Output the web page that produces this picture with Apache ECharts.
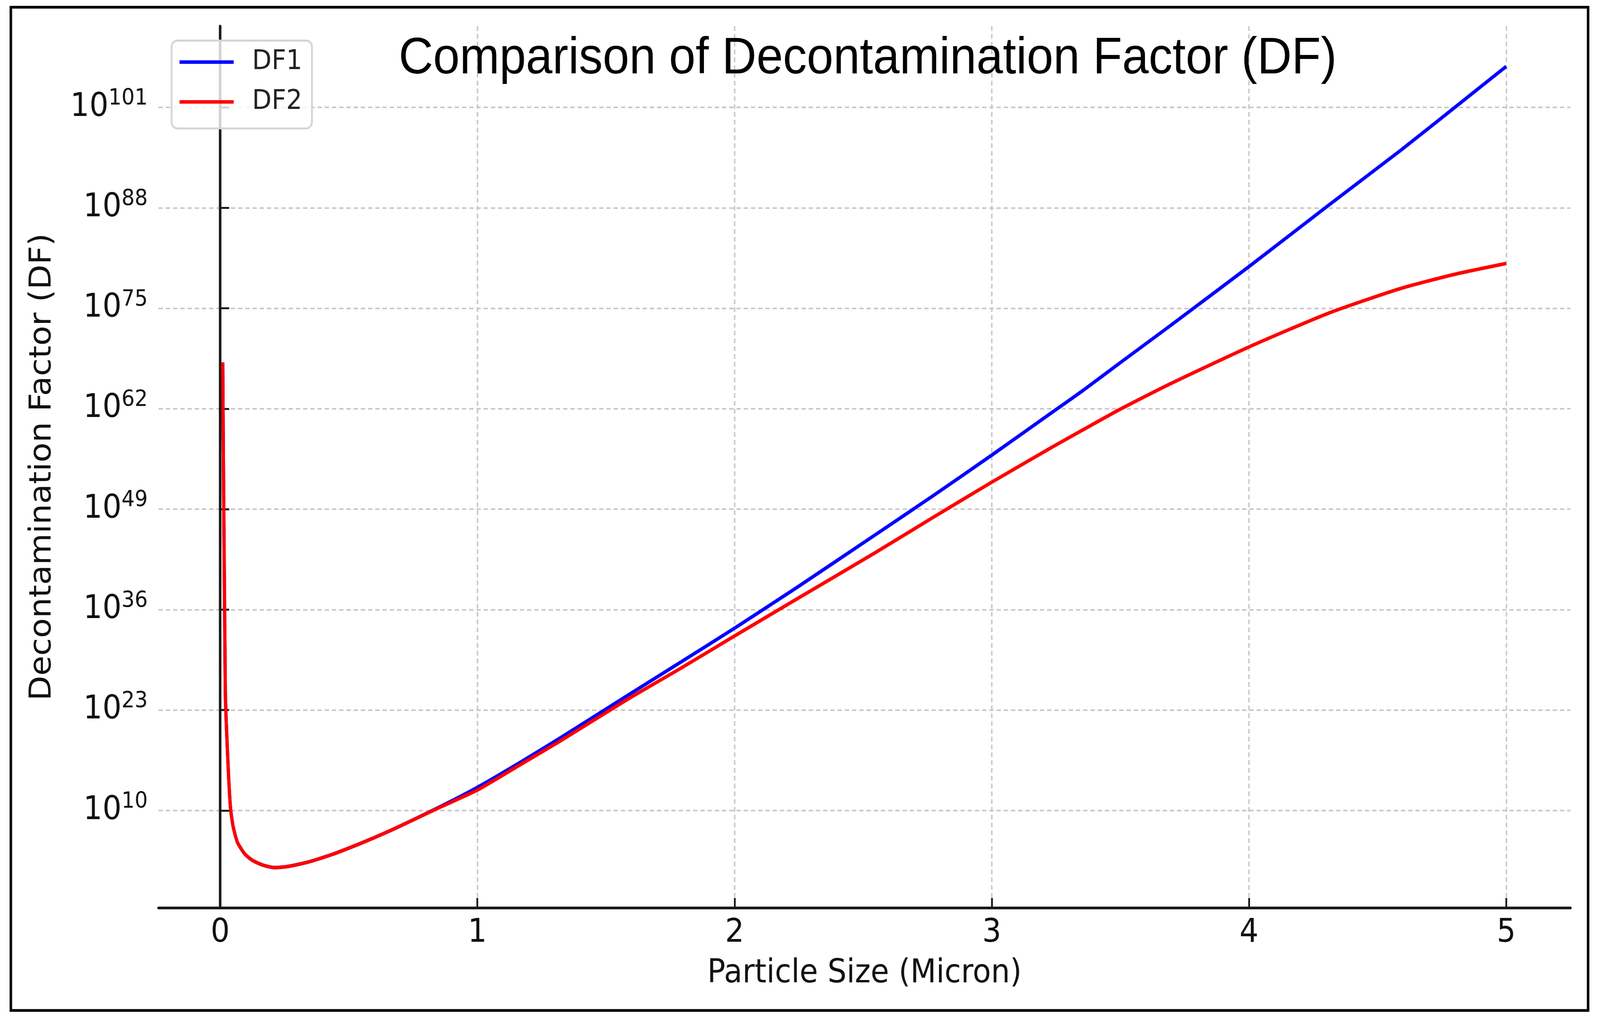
<!DOCTYPE html>
<html>
<head>
<meta charset="utf-8">
<script src="https://cdn.jsdelivr.net/npm/echarts@6/dist/echarts.min.js"></script>
<style>
html,body{margin:0;padding:0;background:#fff;overflow:hidden;width:100%;height:100%;}
#wrap{position:fixed;left:0;top:0;width:100vw;height:100vh;overflow:hidden;background:#fff;}
#chart{width:4430px;height:2615px;transform-origin:0 0;}
</style>
</head>
<body>
<div id="wrap"><div id="chart"></div></div>
<script>
// Particle size (micron)
const particleSize = [0.01, 0.02, 0.03, 0.04, 0.05, 0.067, 0.093, 0.115, 0.134, 0.17, 0.21, 0.26, 0.338, 0.383, 0.454, 0.571, 0.687, 0.843, 1.0, 1.16, 1.315, 1.584, 1.79, 2.0, 2.248, 2.543, 2.77, 3.0, 3.233, 3.356, 3.497, 3.692, 4.0, 4.308, 4.588, 4.8, 5.0];
// log10 of DF1
const df1Exponent = [68, 25.5, 16.4, 10.4, 8.0, 5.9, 4.5, 3.8, 3.4, 2.9, 2.62, 2.75, 3.3, 3.75, 4.55, 6.1, 7.8, 10.3, 13.0, 16.1, 19.25, 24.9, 29.2, 33.6, 39.0, 45.6, 50.7, 56.0, 61.5, 64.4, 67.9, 72.7, 80.4, 88.3, 95.4, 101.0, 106.3];
// log10 of DF2
const df2Exponent = [68, 25.5, 16.4, 10.4, 8.0, 5.9, 4.5, 3.8, 3.4, 2.9, 2.62, 2.75, 3.3, 3.75, 4.55, 6.1, 7.8, 10.25, 12.65, 15.8, 18.85, 24.4, 28.4, 32.6, 37.5, 43.3, 47.9, 52.5, 57.0, 59.3, 61.9, 65.2, 70.0, 74.35, 77.55, 79.4, 80.8];
const seriesNames = ['DF1', 'DF2'];
const seriesColors = ['#0000ff', '#ff0000'];
const xTicks = [0, 1, 2, 3, 4, 5];
const yTickExponents = [10, 23, 36, 49, 62, 75, 88, 101];
const titleText = 'Comparison of Decontamination Factor (DF)';
const xName = 'Particle Size (Micron)';
const yName = 'Decontamination Factor (DF)';

const yTickValues = yTickExponents.map(e => Math.pow(10, e));
const df1Data = particleSize.map((x, i) => [x, Math.pow(10, df1Exponent[i])]);
const df2Data = particleSize.map((x, i) => [x, Math.pow(10, df2Exponent[i])]);

// fit the 4430x2615 design to the real viewport (which may be narrower)
const SX = (window.innerWidth || 4430) / 4430;
const SY = (window.innerHeight || 2615) / 2615;
const el = document.getElementById('chart');
el.style.transform = 'scale(' + SX + ',' + SY + ')';
const dpr = (window.devicePixelRatio || 1) * Math.max(SX, SY);

const FONT = 'DejaVu Sans';
const gridLine = { show: true, lineStyle: { color: '#c8c8c8', width: 4, type: [12, 8] } };
const AX = '#1a1a1a';

const chart = echarts.init(el, null, { renderer: 'canvas', devicePixelRatio: dpr, width: 4430, height: 2615 });
chart.setOption({
  animation: false,
  backgroundColor: '#ffffff',
  title: {
    text: titleText,
    left: 1104,
    top: 86,
    padding: 0,
    textStyle: { fontFamily: 'Liberation Sans', fontSize: 132, lineHeight: 132, fontWeight: 'normal', color: '#000' }
  },
  legend: {
    data: seriesNames,
    orient: 'vertical',
    left: 475,
    top: 104,
    padding: [20, 27, 33, 22],
    itemGap: 32,
    itemWidth: 150,
    itemHeight: 9,
    icon: 'rect',
    borderColor: '#d4d4d4',
    borderWidth: 5,
    borderRadius: 16,
    backgroundColor: 'rgba(255,255,255,0.8)',
    textStyle: { fontFamily: FONT, fontSize: 70, lineHeight: 70, color: '#222', padding: [0, 0, 0, 46] }
  },
  grid: { left: 439, right: 82, top: 67, bottom: 290, containLabel: false },
  xAxis: {
    type: 'value',
    min: -0.2395,
    max: 5.2495,
    name: xName,
    nameLocation: 'middle',
    nameGap: 128,
    nameTextStyle: { fontFamily: FONT, fontSize: 83, lineHeight: 83, color: '#111' },
    axisLine: { show: true, onZero: false, lineStyle: { color: AX, width: 7 } },
    axisTick: { show: true, inside: true, length: 25, lineStyle: { color: AX, width: 5 }, customValues: xTicks },
    axisLabel: { customValues: xTicks, margin: 24, fontFamily: FONT, fontSize: 83, lineHeight: 83, color: '#111', formatter: v => String(v) },
    splitLine: gridLine
  },
  yAxis: {
    type: 'log',
    logBase: 10,
    min: Math.pow(10, -2.58),
    max: Math.pow(10, 111.51),
    name: yName,
    nameLocation: 'middle',
    nameGap: 279,
    nameRotate: 90,
    nameTextStyle: { fontFamily: FONT, fontSize: 83, lineHeight: 83, color: '#111' },
    axisLine: { show: true, lineStyle: { color: AX, width: 7 } },
    axisTick: { show: true, inside: true, length: 25, lineStyle: { color: AX, width: 5 }, customValues: yTickValues },
    axisLabel: {
      customValues: yTickValues,
      margin: 30,
      formatter: v => '{b|10}{s|' + Math.round(Math.log10(v)) + '}',
      rich: {
        b: { fontFamily: FONT, fontSize: 83, lineHeight: 100, color: '#111' },
        s: { fontFamily: FONT, fontSize: 57, lineHeight: 57, color: '#111', verticalAlign: 'top' }
      }
    },
    splitLine: gridLine
  },
  series: [
    {
      name: seriesNames[0], type: 'line', data: df1Data, showSymbol: false, symbol: 'none',
      smooth: 0.2, color: seriesColors[0],
      lineStyle: { color: seriesColors[0], width: 9 }, z: 2
    },
    {
      name: seriesNames[1], type: 'line', data: df2Data, showSymbol: false, symbol: 'none',
      smooth: 0.2, color: seriesColors[1],
      lineStyle: { color: seriesColors[1], width: 9 }, z: 3
    }
  ],
  graphic: [
    { type: 'rect', silent: true, z: 100,
      shape: { x: 30, y: 18.5, width: 4367, height: 2569.5 },
      style: { fill: 'none', stroke: '#000', lineWidth: 7 } }
  ]
});
</script>
</body>
</html>
